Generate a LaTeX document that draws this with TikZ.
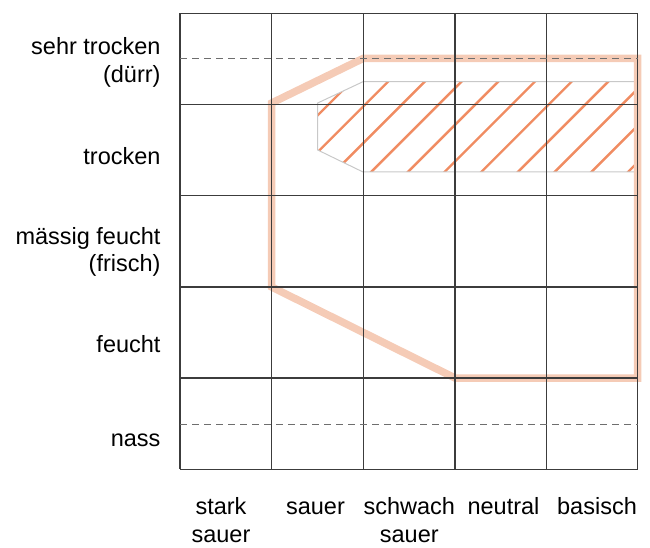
\documentclass[tikz,border=0pt]{standalone}
\usepackage{fontspec}
\setmainfont{Liberation Sans}
\usetikzlibrary{positioning}

\definecolor{gridgray}{RGB}{60,60,60}
\definecolor{dashgray}{RGB}{110,110,110}
\definecolor{peach}{RGB}{245,203,182}
\definecolor{hatchorange}{RGB}{240,140,98}
\definecolor{outlinegray}{RGB}{200,200,200}

\begin{document}
\begin{tikzpicture}[x=1pt, y=-1pt,
    lbl/.style={inner sep=0pt, font=\fontsize{23.5}{27.5}\selectfont},
    rowlbl/.style={lbl, align=right, anchor=base east},
    collbl/.style={inner sep=0pt, font=\fontsize{23.5}{28}\selectfont, align=center, anchor=base},
    gridline/.style={draw=gridgray, line width=1.1pt},
    midline/.style={draw=dashgray, line width=1.1pt, dash pattern=on 7pt off 5pt}
  ]
    \useasboundingbox (0,0) rectangle (650,548);

    % hatched zone
    \begin{scope}
        \clip (363,81.7) -- (637,81.7) -- (637,172) -- (363,172) -- (317.7,150) -- (317.7,103) -- cycle;
        \foreach \c in {359.6,396.3,...,840} {
            \draw[hatchorange, line width=2.4pt] (\c-60,60) -- (\c-200,200);
        }
    \end{scope}
    \draw[outlinegray, line width=1pt] (637,81.7) -- (363,81.7) -- (317.7,103) -- (317.7,150) -- (363,172) -- (637,172);

    % thick outline
    \draw[peach, line width=7.5pt, line join=miter] (271.7,103) -- (363,58.5) -- (637.7,58.5) -- (637.7,378) -- (455,378) -- (271.7,287) -- cycle;

    % grid
    \foreach \x in {180,271.7,363.3,455,546.7,637.7} {
        \draw[gridline] (\x,13.5) -- (\x,469.3);
    }
    \foreach \y in {13.5,104.5,195.5,287,378,469.3} {
        \draw[gridline] (180,\y) -- (637.7,\y);
    }
    \draw[midline] (180,58.5) -- (637.7,58.5);
    \draw[midline] (180,424.3) -- (637.7,424.3);

    % row labels (base = last line)
    \node[rowlbl] (sehrtrocken) at (160.7,82.5) {sehr trocken\\(dürr)};
    \node[rowlbl] (trocken) at (160.7,164.3) {trocken};
    \node[rowlbl] (maessig) at (160.7,271.8) {mässig feucht\\(frisch)};
    \node[rowlbl] (feucht) at (160.7,352.3) {feucht};
    \node[rowlbl] (nass) at (160.7,446.7) {nass};

    % column labels
    \node[collbl] (starksauer) at (221,542.5) {stark\\sauer};
    \node[collbl] (sauer) at (315.5,514.5) {sauer};
    \node[collbl] (schwachsauer) at (409.3,542.5) {schwach\\sauer};
    \node[collbl] (neutral) at (503.5,514.5) {neutral};
    \node[collbl] (basisch) at (597,514.5) {basisch};
\end{tikzpicture}
\end{document}
